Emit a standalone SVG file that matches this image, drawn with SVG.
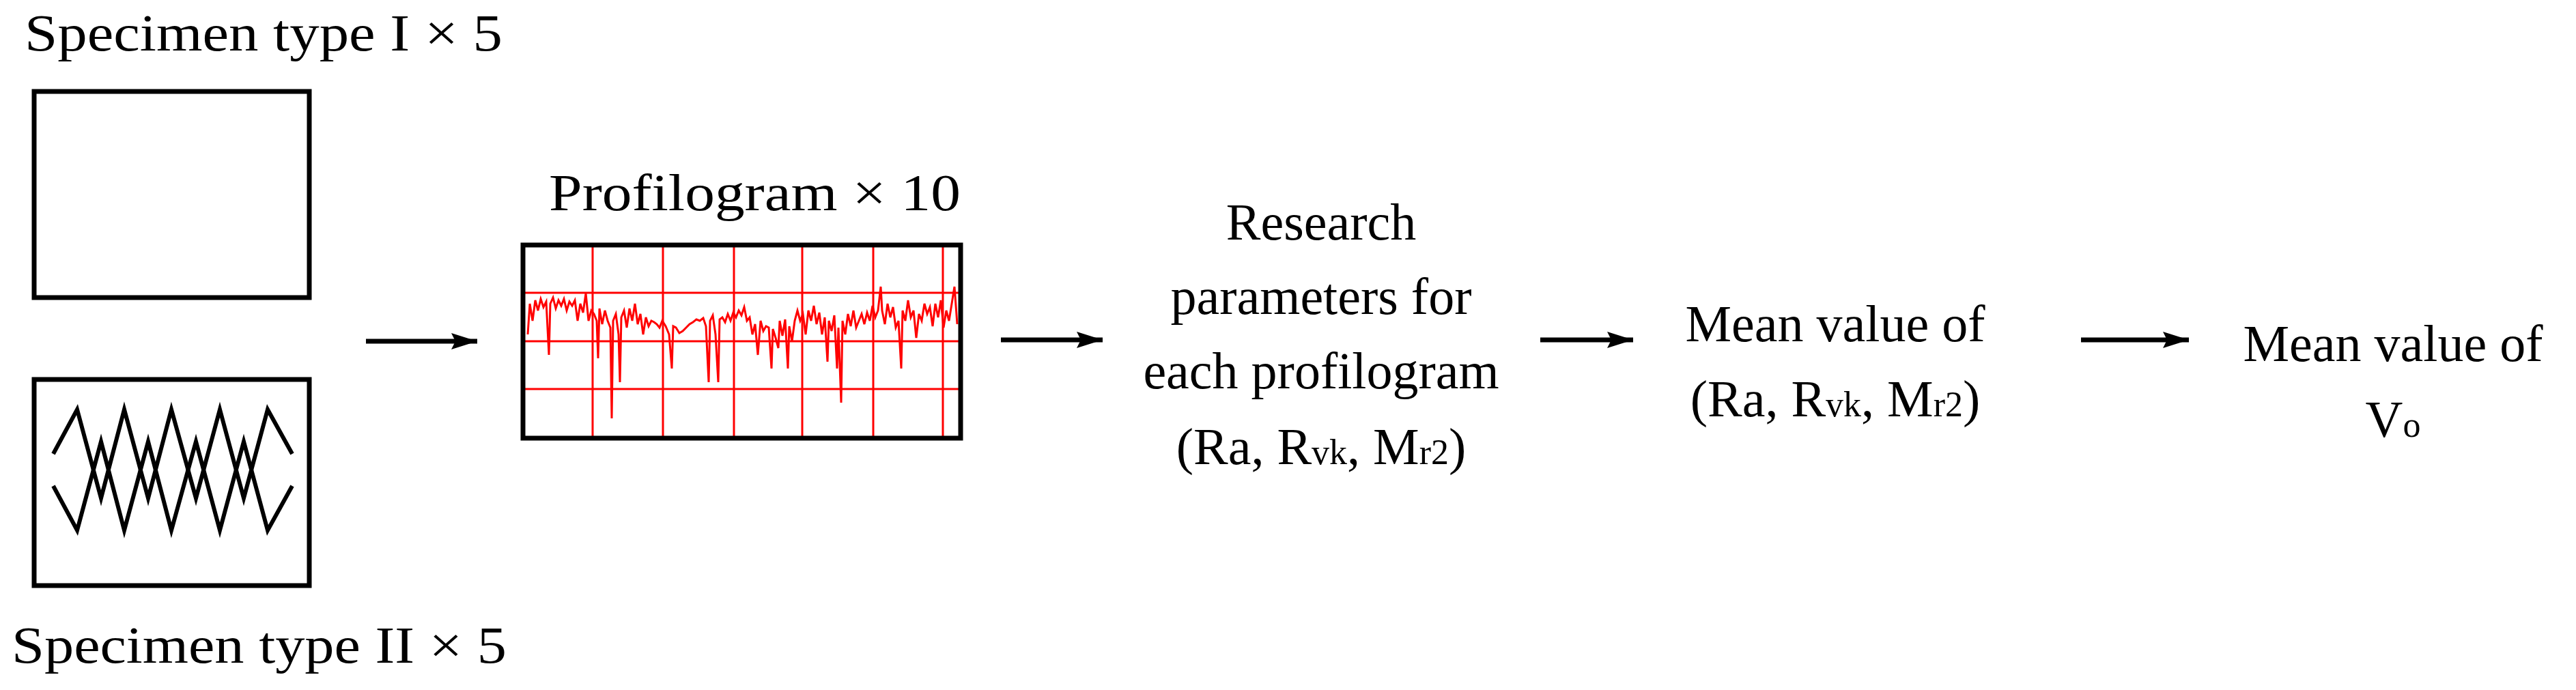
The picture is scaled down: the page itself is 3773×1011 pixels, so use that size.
<svg xmlns="http://www.w3.org/2000/svg" width="3773" height="1011" viewBox="0 0 3773 1011">
<style>
text{font-family:"Liberation Serif","DejaVu Serif",serif;font-size:76px;fill:#000}
.m{text-anchor:middle}
.box{fill:none;stroke:#000;stroke-width:7}
.lat{fill:none;stroke:#000;stroke-width:6;stroke-linejoin:miter}
.grid{stroke:#f00;stroke-width:3}
.conn{stroke:#000;stroke-width:7}
.s{font-size:52px}
</style>
<defs>
<marker id="ah" markerUnits="userSpaceOnUse" markerWidth="40" markerHeight="30" refX="38" refY="15" orient="auto"><path d="M0,3 L38,15 L0,27 L6,15 Z" fill="#000"/></marker>
</defs>
<rect width="3773" height="1011" fill="#fff"/>
<g id="specimen1">
<text x="36" y="74" textLength="700" lengthAdjust="spacingAndGlyphs">Specimen type I × 5</text>
<rect class="box" x="50" y="134" width="403" height="302"/>
</g>
<g id="specimen2">
<rect class="box" x="50" y="556" width="403" height="302"/>
<polyline class="lat" points="78,665 113,600 148,730 182,600 217,730 251,600 287,730 322,600 357,730 392,600 428,665"/>
<polyline class="lat" points="78,712 113,777 148,647 182,777 217,647 251,777 287,647 322,777 357,647 392,777 428,712"/>
<text x="17" y="971" textLength="725" lengthAdjust="spacingAndGlyphs">Specimen type II × 5</text>
</g>
<g id="profilogram">
<text x="804" y="308" textLength="603" lengthAdjust="spacingAndGlyphs">Profilogram × 10</text>
<g class="grid">
<line x1="868" y1="359" x2="868" y2="642"/><line x1="971" y1="359" x2="971" y2="642"/><line x1="1075" y1="359" x2="1075" y2="642"/><line x1="1175" y1="359" x2="1175" y2="642"/><line x1="1279" y1="359" x2="1279" y2="642"/><line x1="1381" y1="359" x2="1381" y2="642"/>
<line x1="766" y1="429" x2="1407" y2="429"/><line x1="766" y1="500" x2="1407" y2="500"/><line x1="766" y1="570" x2="1407" y2="570"/>
</g>
<polyline fill="none" stroke="#f00" stroke-width="3" points="773,490 776,445 780,470 784,440 788,455 792,438 796,450 800,442 804,520 806,445 810,436 814,452 818,440 822,448 826,438 830,455 834,442 838,448 842,440 846,470 850,445 854,458 858,430 862,470 866,455 870,460 874,470 876,525 878,452 882,475 886,455 890,470 894,480 896,613 898,470 902,460 906,490 908,560 910,465 914,455 918,480 922,452 926,470 930,445 934,475 938,460 942,490 946,465 950,478 954,470 958,472 962,475 966,480 970,470 975,478 980,490 984,540 986,478 990,480 995,488 1000,485 1005,480 1010,475 1015,472 1020,468 1025,470 1030,466 1034,478 1038,560 1040,470 1044,462 1048,490 1052,560 1054,468 1058,465 1062,472 1066,460 1070,470 1074,458 1078,465 1082,455 1086,462 1090,450 1094,470 1098,465 1102,490 1106,475 1110,520 1114,470 1118,485 1122,478 1126,480 1130,540 1132,482 1136,495 1140,510 1142,470 1146,492 1150,468 1154,540 1156,478 1160,500 1164,470 1168,455 1172,470 1176,460 1180,490 1184,455 1188,470 1192,448 1196,475 1200,458 1204,490 1208,465 1212,530 1214,470 1218,485 1222,462 1226,540 1228,480 1232,590 1234,470 1238,490 1242,460 1246,478 1250,455 1254,480 1258,470 1262,460 1266,475 1270,458 1274,470 1278,448 1282,465 1286,455 1290,420 1292,455 1296,475 1300,445 1304,465 1308,450 1312,480 1316,470 1320,540 1322,455 1326,470 1330,440 1334,465 1338,455 1342,495 1346,460 1350,470 1354,445 1358,460 1362,450 1366,478 1370,445 1374,465 1378,440 1382,480 1386,455 1390,470 1394,445 1398,420 1402,475"/>
<rect class="box" x="766" y="359" width="641" height="283"/>
</g>
<g id="research">
<text class="m" x="1935" y="351">Research</text>
<text class="m" x="1935" y="460">parameters for</text>
<text class="m" x="1935" y="569">each profilogram</text>
<text class="m" x="1935" y="680">(Ra, R<tspan class="s">vk</tspan>, M<tspan class="s">r2</tspan>)</text>
</g>
<g id="mean1">
<text class="m" x="2688" y="500">Mean value of</text>
<text class="m" x="2688" y="610">(Ra, R<tspan class="s">vk</tspan>, M<tspan class="s">r2</tspan>)</text>
</g>
<g id="mean2">
<text class="m" x="3505" y="529">Mean value of</text>
<text class="m" x="3505" y="640">V<tspan class="s">o</tspan></text>
</g>
<g id="connectors">
<line class="conn" x1="536" y1="500" x2="699" y2="500" marker-end="url(#ah)"/>
<line class="conn" x1="1466" y1="498" x2="1615" y2="498" marker-end="url(#ah)"/>
<line class="conn" x1="2256" y1="498" x2="2392" y2="498" marker-end="url(#ah)"/>
<line class="conn" x1="3048" y1="498" x2="3206" y2="498" marker-end="url(#ah)"/>
</g>
</svg>
